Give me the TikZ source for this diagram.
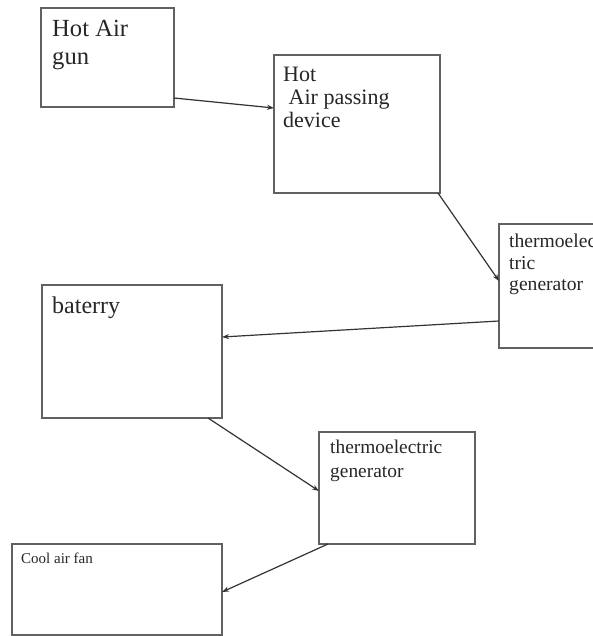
\documentclass[tikz,border=0pt]{standalone}
\usepackage{fontspec}
\setmainfont{Liberation Serif}
\usetikzlibrary{positioning,calc,arrows.meta}
\begin{document}
\begin{tikzpicture}[x=1pt,y=-1pt,
    box/.style={draw=black!62,line width=1.3pt,anchor=north west,inner sep=0pt,outer sep=0pt},
    txt/.style={inner sep=0pt,align=left,text=black!85},
    link/.style={draw=black!80,line width=1.2pt,-{Stealth[length=7pt,width=5pt]}}]
    \useasboundingbox (0,0) rectangle (593,636);
    \clip (0,0) rectangle (593,636);
    % boxes
    \node[box,minimum width=133pt,minimum height=99pt] (gun) at (41,8) {};
    \node[box,minimum width=166pt,minimum height=138pt] (device) at (274,55) {};
    \node[box,minimum width=120pt,minimum height=124pt] (tegA) at (499,224) {};
    \node[box,minimum width=180pt,minimum height=133pt] (battery) at (42,285) {};
    \node[box,minimum width=156pt,minimum height=112pt] (tegB) at (319,432) {};
    \node[box,minimum width=210pt,minimum height=91pt] (fan) at (12,544) {};
    % texts
    \node[txt,font=\fontsize{24.6}{28}\selectfont,below right=12pt and 11pt of gun.north west] (gunTxt) {Hot Air\\gun};
    \node[txt,font=\fontsize{22}{23}\selectfont,below right=12pt and 9pt of device.north west] (deviceTxt) {Hot\\\hspace*{0.25em}Air passing\\device};
    \node[txt,font=\fontsize{19.6}{21.5}\selectfont,below right=10pt and 10pt of tegA.north west] (tegATxt) {thermoelec\\tric\\generator};
    \node[txt,font=\fontsize{24}{28}\selectfont,below right=12pt and 10pt of battery.north west] (batteryTxt) {baterry};
    \node[txt,font=\fontsize{19.4}{24}\selectfont,below right=8pt and 11pt of tegB.north west] (tegBTxt) {thermoelectric\\generator};
    \node[txt,font=\fontsize{15}{18}\selectfont,below right=9pt and 9pt of fan.north west] (fanTxt) {Cool air fan};
    % arrows
    \draw[link] ($(gun.south east)+(0,-9)$) -- ($(device.north west)+(0,53)$);
    \draw[link] ($(device.south east)+(-2,0)$) -- ($(tegA.north west)+(0,57)$);
    \draw[link] ($(tegA.south west)+(0,-27)$) -- ($(battery.north east)+(0,52)$);
    \draw[link] ($(battery.south east)+(-14,0)$) -- ($(tegB.north west)+(0,59)$);
    \draw[link] ($(tegB.south west)+(9,0)$) -- ($(fan.north east)+(0,48)$);
\end{tikzpicture}
\end{document}
